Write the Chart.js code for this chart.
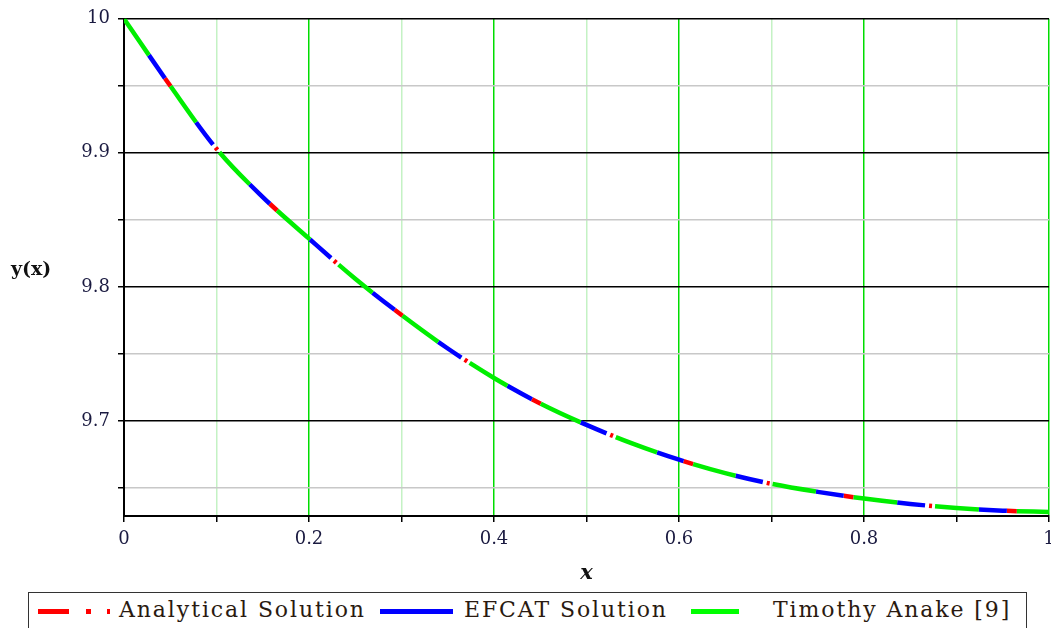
<!DOCTYPE html>
<html>
<head>
<meta charset="utf-8">
<script src="https://cdn.jsdelivr.net/npm/chart.js@4.4.1/dist/chart.umd.min.js"></script>
<style>
  body { margin: 0; background: #fff; }
  #wrap { position: relative; width: 1051px; height: 628px; overflow: hidden; }
  #box { position: absolute; left: 0; top: 0; width: 1051px; height: 590px; }
  #legend { position: absolute; left: 28px; top: 592px; width: 999px; height: 40px;
            border: 1.5px solid #333; box-sizing: border-box;
            font-family: "DejaVu Serif", serif; font-size: 22px; letter-spacing: 1.9px; color: #2a1a10; }
  #legend span { position: absolute; top: 4px; white-space: nowrap; }
  .smp { position: absolute; height: 5px; top: 16px; }
</style>
</head>
<body>
<div id="wrap">
  <div id="box"><canvas id="c"></canvas></div>
  <div id="legend">
    <div class="smp" style="left:9px;width:31px;background:#ff0000"></div>
    <div class="smp" style="left:57px;width:5px;background:#ff0000"></div>
    <div class="smp" style="left:78px;width:3px;background:#ff0000"></div>
    <span style="left:90px">Analytical Solution</span>
    <div class="smp" style="left:351px;width:73px;background:#0000ff"></div>
    <span style="left:435px">EFCAT Solution</span>
    <div class="smp" style="left:662px;width:48px;background:#00ff00"></div>
    <span style="left:744px">Timothy Anake [9]</span>
  </div>
</div>
<script>
var xs = [0, 0.05, 0.1, 0.15, 0.2, 0.25, 0.3, 0.35, 0.4, 0.45, 0.5, 0.55, 0.6, 0.65, 0.7, 0.75, 0.8, 0.85, 0.9, 0.95, 1];
var analytical = [10, 9.950, 9.903, 9.867, 9.836, 9.806, 9.779, 9.754, 9.732, 9.713, 9.697, 9.683, 9.671, 9.661, 9.653, 9.647, 9.642, 9.638, 9.635, 9.633, 9.632];
var efcat      = [10, 9.950, 9.903, 9.867, 9.836, 9.806, 9.779, 9.754, 9.732, 9.713, 9.697, 9.683, 9.671, 9.661, 9.653, 9.647, 9.642, 9.638, 9.635, 9.633, 9.632];
var anake      = [10, 9.950, 9.903, 9.867, 9.836, 9.806, 9.779, 9.754, 9.732, 9.713, 9.697, 9.683, 9.671, 9.661, 9.653, 9.647, 9.642, 9.638, 9.635, 9.633, 9.632];
var xTicks = [0, 0.1, 0.2, 0.3, 0.4, 0.5, 0.6, 0.7, 0.8, 0.9, 1];
var yTicks = [9.65, 9.7, 9.75, 9.8, 9.85, 9.9, 9.95, 10];

var SERIF = '"DejaVu Serif", serif';

function pts(ys) {
  return xs.map(function (x, i) { return { x: x, y: ys[i] }; });
}
function isMajor(v, step) {
  var r = Math.round(v / step);
  return Math.abs(v / step - r) < 1e-6;
}

var yTitle = {
  id: 'yTitle',
  afterDraw: function (chart) {
    var ctx = chart.ctx;
    ctx.save();
    ctx.font = 'bold 19px ' + SERIF;
    ctx.fillStyle = '#111';
    ctx.textBaseline = 'middle';
    ctx.fillText('y(x)', 11, 270);
    ctx.restore();
  }
};

new Chart(document.getElementById('c'), {
  type: 'line',
  data: {
    datasets: [
      { label: 'Analytical Solution', data: pts(analytical), borderColor: '#ff0000', borderWidth: 4.5,
        borderDash: [10, 76, 3, 75], borderDashOffset: 92, order: 3 },
      { label: 'EFCAT Solution', data: pts(efcat), borderColor: '#0000ff', borderWidth: 4.5,
        borderDash: [28, 54], borderDashOffset: 38, order: 2 },
      { label: 'Timothy Anake [9]', data: pts(anake), borderColor: '#00ee00', borderWidth: 4.5,
        borderDash: [44, 38], order: 1 }
    ]
  },
  options: {
    responsive: true,
    maintainAspectRatio: false,
    animation: false,
    events: [],
    cubicInterpolationMode: 'monotone',
    elements: { point: { radius: 0 }, line: { borderCapStyle: 'butt' } },
    layout: { padding: { top: 10, right: 2, left: 0, bottom: 0 } },
    plugins: { legend: { display: false }, tooltip: { enabled: false } },
    scales: {
      x: {
        type: 'linear', min: 0, max: 1,
        afterBuildTicks: function (s) { s.ticks = xTicks.map(function (v) { return { value: v }; }); },
        afterFit: function (s) { s.height = 74; s.paddingRight = 0; s.paddingLeft = 0; },
        ticks: {
          maxRotation: 0, padding: 7, color: '#1a1a40',
          font: { family: SERIF, size: 18 },
          callback: function (v) { return isMajor(v, 0.2) ? String(Math.round(v * 10) / 10) : ''; }
        },
        grid: {
          color: function (c) { return c.tick && isMajor(c.tick.value, 0.2) ? '#00dd00' : '#c4f2c4'; },
          lineWidth: 1.5, tickLength: 6, tickColor: '#000'
        },
        border: { color: '#000', width: 2 },
        title: { display: true, text: 'x', color: '#111', padding: { top: 0, bottom: 4 },
                 font: { family: SERIF, size: 21, weight: 'bold', style: 'italic' } }
      },
      y: {
        type: 'linear', min: 9.629, max: 10,
        afterBuildTicks: function (s) { s.ticks = yTicks.map(function (v) { return { value: v }; }); },
        afterFit: function (s) { s.width = 124; },
        ticks: {
          padding: 8, color: '#1a1a40',
          font: { family: SERIF, size: 18 },
          callback: function (v) { return isMajor(v, 0.1) ? String(Math.round(v * 10) / 10) : ''; }
        },
        grid: {
          color: function (c) { return c.tick && isMajor(c.tick.value, 0.1) ? '#000' : '#c8c8c8'; },
          lineWidth: 1.5, tickLength: 6, tickColor: '#000'
        },
        border: { color: '#000', width: 2 }
      }
    }
  },
  plugins: [yTitle]
});
</script>
</body>
</html>
